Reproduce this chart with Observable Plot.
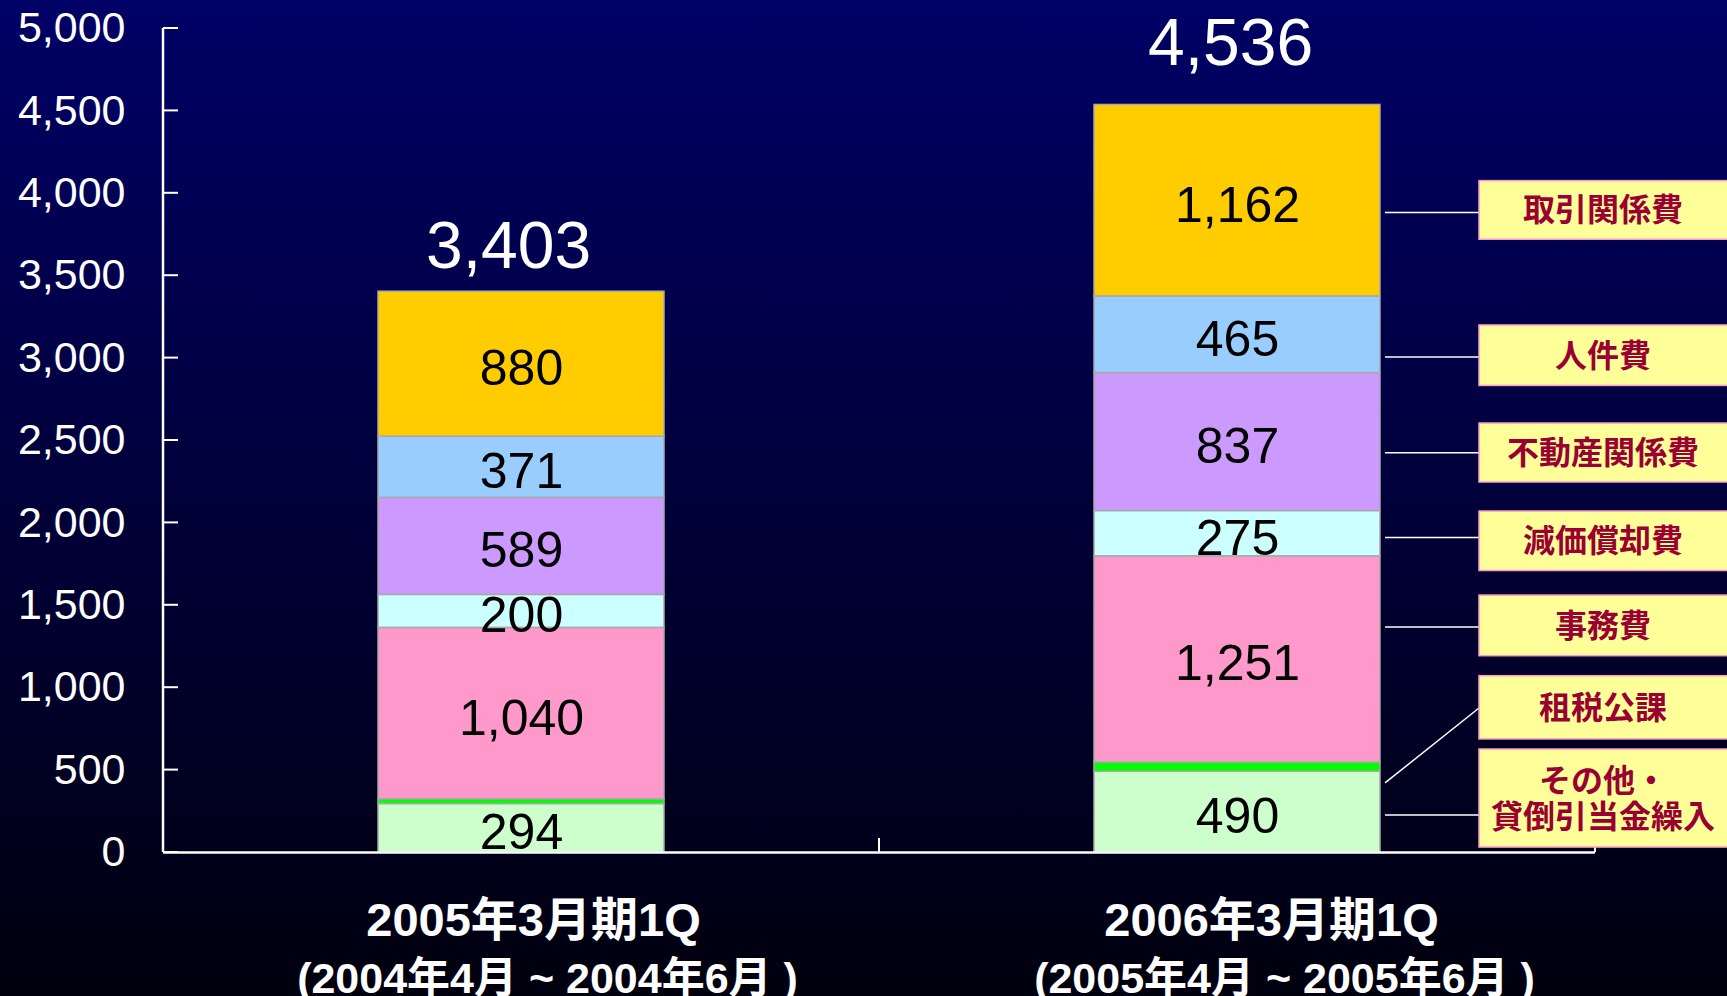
<!DOCTYPE html>
<html><head><meta charset="utf-8">
<script src="https://cdn.jsdelivr.net/npm/d3@7"></script>
<script src="https://cdn.jsdelivr.net/npm/@observablehq/plot@0.6"></script>
<style>
html,body{margin:0;padding:0;width:1727px;height:996px;overflow:hidden;background:linear-gradient(#000066,#00000e);}
#chart svg{display:block}
</style></head><body><div id="chart"></div>
<script>
// ---- data ----
const periods = ["2005年3月期1Q", "2006年3月期1Q"];
const periodRanges = ["(2004年4月 ~ 2004年6月 )", "(2005年4月 ~ 2005年6月 )"];
const categories = ["その他・貸倒引当金繰入", "租税公課", "事務費", "減価償却費", "不動産関係費", "人件費", "取引関係費"];
const calloutLabels = [["その他・", "貸倒引当金繰入"], ["租税公課"], ["事務費"], ["減価償却費"], ["不動産関係費"], ["人件費"], ["取引関係費"]];
const values2005 = [294, 29, 1040, 200, 589, 371, 880];
const values2006 = [490, 56, 1251, 275, 837, 465, 1162];
const totals = [3403, 4536];
const yTicks = [0, 500, 1000, 1500, 2000, 2500, 3000, 3500, 4000, 4500, 5000];

// ---- style / layout ----
const colors = ["#CCFFCC", "#00FF00", "#FF99CC", "#CCFFFF", "#CC99FF", "#99CCFF", "#FFCC00"];
const calloutBox = [[30, 625], [686, 1070], [1191, 1559], [1708, 2069], [2245, 2603], [2831, 3198], [3718, 4074]];
const calloutLine = [[225, 225], [419, 874], [1365, 1365], [1908, 1908], [2423, 2423], [3004, 3004], [3880, 3880]];
const calloutLeft = 1479;
const totalDy = [-24, -40], totalDx = [-13, -7];
const labelDx = [12, 34], rangeDx = [26, 47];

const rows = [];
periods.forEach((p, i) => categories.forEach((c, j) =>
  rows.push({period: p, category: c, value: (i ? values2006 : values2005)[j]})));
const totalRows = periods.map((p, i) => ({period: p, total: totals[i], range: periodRanges[i]}));
const fmt = d3.format(",");
const latin = "'Liberation Sans', Arial, 'Noto Sans CJK JP', sans-serif";

function decorations(index, scales, values, dims) {
  const x = scales.x, y = scales.y;
  const bw = typeof x.bandwidth === "function" ? x.bandwidth() : x.bandwidth;
  const g = d3.create("svg:g");
  const left = dims.marginLeft, right = dims.width - dims.marginRight;
  g.append("line").attr("x1", left).attr("x2", left).attr("y1", y(0)).attr("y2", y(d3.max(yTicks)))
    .attr("stroke", "white").attr("stroke-width", 2.5);
  for (const t of yTicks) g.append("line").attr("x1", left).attr("x2", left + 15).attr("y1", y(t)).attr("y2", y(t))
    .attr("stroke", "white").attr("stroke-width", 2);
  const mid = (x(periods[0]) + bw + x(periods[1])) / 2;
  for (const bx of [mid, right]) g.append("line").attr("x1", bx).attr("x2", bx).attr("y1", y(0)).attr("y2", y(0) - 14)
    .attr("stroke", "white").attr("stroke-width", 2);
  const barRight = x(periods[1]) + bw + 5;
  categories.forEach((c, i) => {
    const [v1, v2] = calloutLine[i];
    g.append("line").attr("x1", barRight).attr("y1", y(v1)).attr("x2", calloutLeft).attr("y2", y(v2))
      .attr("stroke", "white").attr("stroke-width", 1.5);
  });
  categories.forEach((c, i) => {
    const [b0, b1] = calloutBox[i];
    const top = y(b1), bot = y(b0);
    g.append("rect").attr("x", calloutLeft).attr("y", top).attr("width", 270).attr("height", bot - top)
      .attr("fill", "#FFFF99").attr("stroke", "#FF99CC").attr("stroke-width", 1.5);
    const lines = calloutLabels[i];
    const cy = (top + bot) / 2;
    lines.forEach((ln, k) => {
      g.append("text").attr("x", 1603).attr("y", cy + (k - (lines.length - 1) / 2) * 36)
        .attr("dy", "0.36em").attr("text-anchor", "middle")
        .attr("font-family", "'Noto Sans CJK JP', sans-serif").attr("font-weight", "bold")
        .attr("font-size", 32).attr("fill", "#990033").text(ln);
    });
  });
  return g.node();
}

const perPeriod = [];
totalRows.forEach((r, i) => {
  perPeriod.push(
    Plot.text([r], {x: "period", y: "total", text: d => fmt(d.total), fill: "white", fontSize: 66, lineAnchor: "bottom", dy: totalDy[i], dx: totalDx[i]}),
    Plot.text([r], {x: "period", text: "period", frameAnchor: "bottom", lineAnchor: "bottom", dy: 83, dx: labelDx[i], fontSize: 47, fontWeight: "bold", fill: "white"}),
    Plot.text([r], {x: "period", text: "range", frameAnchor: "bottom", lineAnchor: "bottom", dy: 140, dx: rangeDx[i], fontSize: 43, fontWeight: "bold", fill: "white"})
  );
});

const chart = Plot.plot({
  width: 1727, height: 996,
  marginLeft: 163, marginRight: 132, marginTop: 28, marginBottom: 144,
  style: {background: "transparent", color: "white", fontFamily: latin},
  x: {domain: periods, paddingInner: 0.6, paddingOuter: 0.3, axis: null},
  y: {domain: [0, 5000], axis: null},
  color: {domain: categories, range: colors},
  marks: [
    Plot.barY(rows, {x: "period", y: "value", fill: "category", stroke: "#a8a8a8", strokeWidth: 1.5}),
    Plot.text(rows, Plot.stackY({x: "period", y: "value",
      text: d => d.category === "租税公課" ? "" : fmt(d.value), fill: "black", fontSize: 50, dy: 5})),
    Plot.ruleY([0], {stroke: "white", strokeWidth: 2.5}),
    Plot.axisY(yTicks, {anchor: "left", tickSize: 0, tickPadding: 38, tickFormat: fmt, fontSize: 43, fill: "white"}),
    ...perPeriod,
    decorations
  ]
});
document.getElementById("chart").append(chart);
</script></body></html>
